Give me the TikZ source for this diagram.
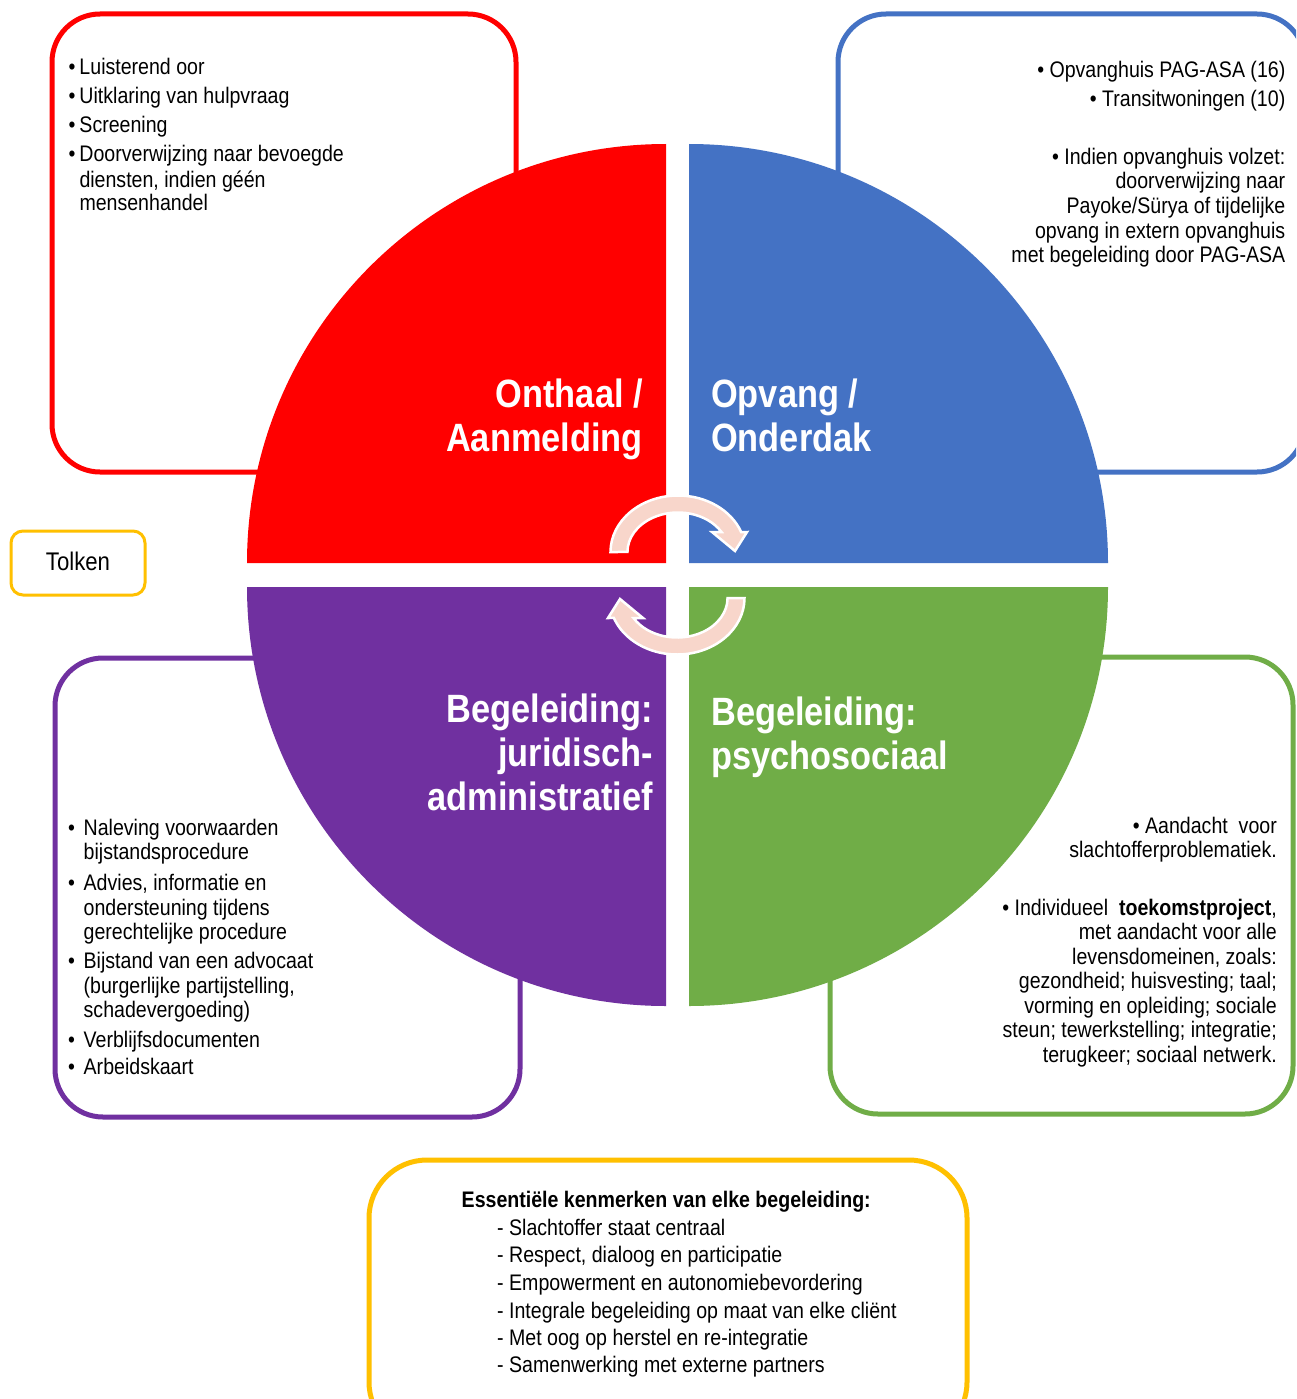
\documentclass[tikz,border=0pt]{standalone}
\usepackage{fontspec}
\setmainfont{Liberation Sans}[FakeStretch=0.87]
\definecolor{cred}{HTML}{FF0000}
\definecolor{cblue}{HTML}{4472C4}
\definecolor{cgreen}{HTML}{70AD47}
\definecolor{cpurple}{HTML}{7030A0}
\definecolor{cyellow}{HTML}{FFC000}
\definecolor{arrowpink}{HTML}{F8D6CB}
\newcommand\rbul{\makebox[11pt][l]{•}}
\newcommand\pbul{\makebox[15.5pt][l]{•}}
\begin{document}
\begin{tikzpicture}[x=1pt,y=-1pt,
  box/.style={line width=5pt, rounded corners=48pt},
  body/.style={inner sep=0pt, text=black, font=\fontsize{22.5}{24.5}\selectfont},
  ttl/.style={inner sep=0pt, text=white, font=\fontsize{39.5}{44}\selectfont\bfseries},
  arr/.style={fill=arrowpink, draw=white, line width=2.5pt, line join=miter}]
\useasboundingbox (0,0) rectangle (1296,1399);
\clip (0,0) rectangle (1296,1399);
\fill[white] (0,0) rectangle (1296,1399);
% outer boxes
\draw[box, draw=cred] (52,14) rectangle (516,472);
\draw[box, draw=cblue] (838,14) rectangle (1305,472);
\draw[box, draw=cpurple] (55,658) rectangle (520,1117);
\draw[box, draw=cgreen] (830,657) rectangle (1293,1114);
\draw[box, draw=cyellow, rounded corners=12pt, line width=3pt] (11,531) rectangle (145,595);
\draw[box, draw=cyellow, rounded corners=58pt] (369,1160) rectangle (967,1440);
% quadrants
\fill[cred] (666,563) -- (247,563) arc[start angle=180, end angle=270, radius=419] -- cycle;
\fill[cblue] (689,563) -- (689,144) arc[start angle=270, end angle=360, radius=419] -- cycle;
\fill[cgreen] (689,587) -- (1108,587) arc[start angle=0, end angle=90, radius=419] -- cycle;
\fill[cpurple] (666,587) -- (666,1006) arc[start angle=90, end angle=180, radius=419] -- cycle;
% circular arrows
\filldraw[arr] (610.5,552) arc[start angle=180, end angle=339.3, x radius=67.5, y radius=56.5]
  -- (747,532) -- (735,551) -- (712,532) -- (721.5,532)
  arc[start angle=329.6, end angle=180, x radius=50.5, y radius=39.5] -- cycle;
\begin{scope}[rotate around={180:(677.5,575)}]
\filldraw[arr] (610.5,552) arc[start angle=180, end angle=339.3, x radius=67.5, y radius=56.5]
  -- (747,532) -- (735,551) -- (712,532) -- (721.5,532)
  arc[start angle=329.6, end angle=180, x radius=50.5, y radius=39.5] -- cycle;
\end{scope}
% titles
\node[ttl, anchor=base east] (t1a) at (643,407) {Onthaal /};
\node[ttl, anchor=base east] (t1b) at (643,451) {Aanmelding};
\node[ttl, anchor=base west] (t2a) at (711,407) {Opvang /};
\node[ttl, anchor=base west] (t2b) at (711,451) {Onderdak};
\node[ttl, anchor=base east] (t3a) at (653,722) {Begeleiding:};
\node[ttl, anchor=base east] (t3b) at (653,766) {juridisch-};
\node[ttl, anchor=base east] (t3c) at (653,810) {administratief};
\node[ttl, anchor=base west] (t4a) at (711,725) {Begeleiding:};
\node[ttl, anchor=base west] (t4b) at (711,769) {psychosociaal};
% red box text
\node[body, anchor=base west] (r1) at (68.3,75) {\rbul Luisterend oor};
\node[body, anchor=base west] (r2) at (68.3,104) {\rbul Uitklaring van hulpvraag};
\node[body, anchor=base west] (r3) at (68.3,133) {\rbul Screening};
\node[body, anchor=base west] (r4) at (68.3,162) {\rbul Doorverwijzing naar bevoegde};
\node[body, anchor=base west] (r5) at (79.3,187) {diensten, indien géén};
\node[body, anchor=base west] (r6) at (79.3,211) {mensenhandel};
% blue box text
\node[body, anchor=base east] (b1) at (1285.5,78) {• Opvanghuis PAG-ASA (16)};
\node[body, anchor=base east] (b2) at (1285.5,107) {• Transitwoningen (10)};
\node[body, anchor=base east] (b3) at (1285.5,165) {• Indien opvanghuis volzet:};
\node[body, anchor=base east] (b4) at (1285.5,189) {doorverwijzing naar};
\node[body, anchor=base east] (b5) at (1285.5,213) {Payoke/Sürya of tijdelijke};
\node[body, anchor=base east] (b6) at (1285.5,238) {opvang in extern opvanghuis};
\node[body, anchor=base east] (b7) at (1285.5,262) {met begeleiding door PAG-ASA};
% purple box text
\node[body, anchor=base west] (p1) at (68,835) {\pbul Naleving voorwaarden};
\node[body, anchor=base west] (p2) at (83.5,859) {bijstandsprocedure};
\node[body, anchor=base west] (p3) at (68,890) {\pbul Advies, informatie en};
\node[body, anchor=base west] (p4) at (83.5,915) {ondersteuning tijdens};
\node[body, anchor=base west] (p5) at (83.5,939) {gerechtelijke procedure};
\node[body, anchor=base west] (p6) at (68,968) {\pbul Bijstand van een advocaat};
\node[body, anchor=base west] (p7) at (83.5,993) {(burgerlijke partijstelling,};
\node[body, anchor=base west] (p8) at (83.5,1017) {schadevergoeding)};
\node[body, anchor=base west] (p9) at (68,1047) {\pbul Verblijfsdocumenten};
\node[body, anchor=base west] (p10) at (68,1074) {\pbul Arbeidskaart};
% green box text
\node[body, anchor=base east] (g1) at (1277,833) {• Aandacht\ \ voor};
\node[body, anchor=base east] (g2) at (1277,857) {slachtofferproblematiek.};
\node[body, anchor=base east] (g3) at (1277,915) {• Individueel\ \ \textbf{toekomstproject},};
\node[body, anchor=base east] (g4) at (1277,939) {met aandacht voor alle};
\node[body, anchor=base east] (g5) at (1277,964) {levensdomeinen, zoals:};
\node[body, anchor=base east] (g6) at (1277,988) {gezondheid; huisvesting; taal;};
\node[body, anchor=base east] (g7) at (1277,1013) {vorming en opleiding; sociale};
\node[body, anchor=base east] (g8) at (1277,1037) {steun; tewerkstelling; integratie;};
\node[body, anchor=base east] (g9) at (1277,1062) {terugkeer; sociaal netwerk.};
% Tolken
\node[body, anchor=base, font=\fontsize{25.5}{28}\selectfont] (tolken) at (78,570) {Tolken};
% bottom box text
\node[body, anchor=base west, font=\fontsize{22.5}{24.5}\selectfont\bfseries] (e0) at (461.5,1207) {Essentiële kenmerken van elke begeleiding:};
\node[body, anchor=base west] (e1) at (497,1235) {- Slachtoffer staat centraal};
\node[body, anchor=base west] (e2) at (497,1262) {- Respect, dialoog en participatie};
\node[body, anchor=base west] (e3) at (497,1290) {- Empowerment en autonomiebevordering};
\node[body, anchor=base west] (e4) at (497,1318) {- Integrale begeleiding op maat van elke cliënt};
\node[body, anchor=base west] (e5) at (497,1345) {- Met oog op herstel en re-integratie};
\node[body, anchor=base west] (e6) at (497,1372) {- Samenwerking met externe partners};
\end{tikzpicture}
\end{document}
